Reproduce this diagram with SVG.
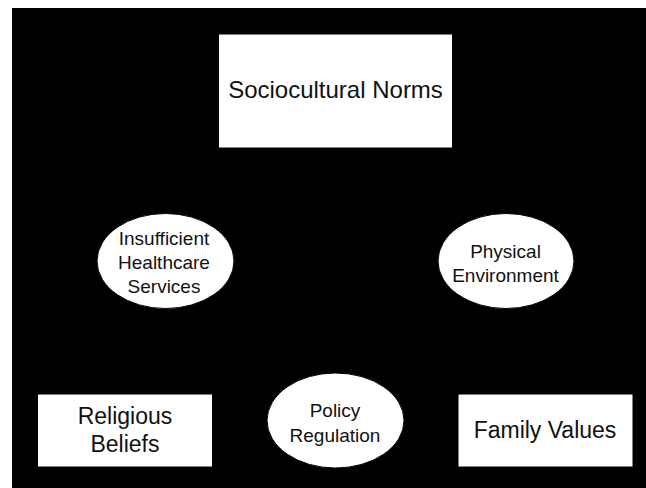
<svg xmlns="http://www.w3.org/2000/svg" width="646" height="488" viewBox="0 0 646 488">
<style>
.box{fill:#fff;stroke:#000;stroke-width:1}
.t{font-family:"Liberation Sans",Arial,Helvetica,sans-serif;fill:#111;text-anchor:middle}
</style>
<rect x="0" y="0" width="646" height="488" fill="#fff"/>
<rect x="12" y="8" width="634" height="480" fill="#000"/>
<g id="connectors"></g>
<g id="sociocultural-norms">
<rect class="box" x="218.5" y="34" width="234" height="114"/>
<text class="t" x="335.5" y="98" font-size="24">Sociocultural Norms</text>
</g>
<g id="insufficient-healthcare">
<ellipse class="box" cx="165.5" cy="261" rx="68.5" ry="47.5"/>
<text class="t" x="164" y="245" font-size="19">Insufficient</text>
<text class="t" x="164" y="269" font-size="19">Healthcare</text>
<text class="t" x="164" y="293" font-size="19">Services</text>
</g>
<g id="physical-environment">
<ellipse class="box" cx="506" cy="261" rx="68" ry="47.5"/>
<text class="t" x="505.5" y="257.5" font-size="19">Physical</text>
<text class="t" x="505.5" y="281.5" font-size="19">Environment</text>
</g>
<g id="religious-beliefs">
<rect class="box" x="37.5" y="394" width="175" height="73"/>
<text class="t" x="125" y="424" font-size="23">Religious</text>
<text class="t" x="125" y="451.5" font-size="23">Beliefs</text>
</g>
<g id="policy-regulation">
<ellipse class="box" cx="335.5" cy="420.5" rx="68.5" ry="47.5"/>
<text class="t" x="335" y="417" font-size="19">Policy</text>
<text class="t" x="335" y="441.5" font-size="19">Regulation</text>
</g>
<g id="family-values">
<rect class="box" x="458" y="394" width="175" height="73"/>
<text class="t" x="545" y="437.5" font-size="23">Family Values</text>
</g>
</svg>
